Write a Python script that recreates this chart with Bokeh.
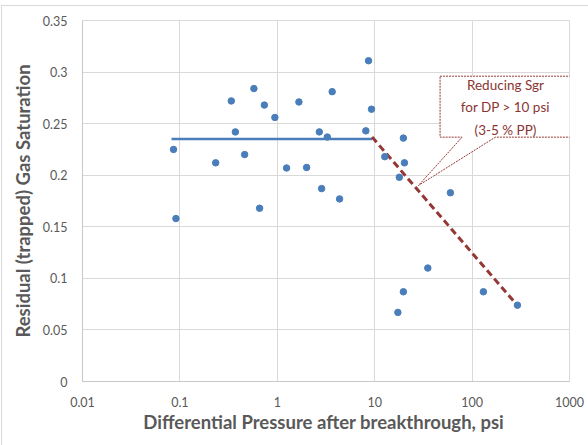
from bokeh.plotting import figure
from bokeh.models import (Range1d, FixedTicker, CustomJSTickFormatter,
                          PolyAnnotation, Label, InlineStyleSheet)
from bokeh.embed import file_html
from bokeh.resources import INLINE

# Measured residual gas saturation vs. differential pressure after breakthrough
dp_psi = [0.086, 0.091, 0.233, 0.337, 0.371, 0.462, 0.575, 0.658, 0.736, 0.944,
          1.245, 1.667, 2.0, 2.70, 2.85, 3.26, 3.66, 4.36, 8.11, 8.64,
          9.27, 12.7, 17.3, 17.9, 19.7, 19.7, 20.2, 35.1, 59.9, 130.6, 292.0]
sgr = [0.225, 0.158, 0.212, 0.272, 0.242, 0.220, 0.284, 0.168, 0.268, 0.256,
       0.207, 0.271, 0.2075, 0.242, 0.187, 0.237, 0.281, 0.177, 0.243, 0.311,
       0.264, 0.218, 0.067, 0.198, 0.236, 0.087, 0.212, 0.110, 0.183, 0.087, 0.074]

# Plateau (constant Sgr) and reducing trend above ~10 psi
plateau_dp = [0.082, 9.4]
plateau_sgr = [0.235, 0.235]
trend_dp = [9.4, 290.0]
trend_sgr = [0.237, 0.074]

x_ticks = [0.01, 0.1, 1, 10, 100, 1000]
x_tick_labels = ["0.01", "0.1", "1", "10", "100", "1000"]
y_ticks = [0, 0.05, 0.1, 0.15, 0.2, 0.25, 0.3, 0.35]
y_tick_labels = ["0", "0.05", "0.1", "0.15", "0.2", "0.25", "0.3", "0.35"]

callout_text = "Reducing Sgr\nfor DP > 10 psi\n(3-5 % PP)"

FONT = "Lato"
GREY = "#595959"
GRID = "#d9d9d9"
BLUE = "#4a7ebb"
DARK_RED = "#953735"

p = figure(width=588, height=445, x_axis_type="log",
           x_range=Range1d(0.01, 1000), y_range=Range1d(0, 0.35),
           output_backend="svg", toolbar_location=None,
           min_border_left=82, min_border_right=19,
           min_border_top=20, min_border_bottom=64)

p.background_fill_color = "white"
p.border_fill_color = "white"
p.outline_line_color = GRID

# outer chart border: only its top and left edges fall inside the page
p.stylesheets.append(InlineStyleSheet(css="""
:host { position: relative; }
:host::after {
  content: ""; position: absolute; left: 1px; top: 5px;
  width: 800px; height: 800px; box-sizing: border-box;
  border-top: 1.5px solid #d9d9d9; border-left: 1.5px solid #d9d9d9;
  pointer-events: none; z-index: 100;
}
"""))

lookup = """
const i = tick_vals.findIndex(t => Math.abs(t - tick) <= 1e-9 * Math.max(1, Math.abs(t)));
return i >= 0 ? tick_text[i] : "";
"""
p.xaxis.ticker = FixedTicker(ticks=x_ticks, minor_ticks=[])
p.xaxis.formatter = CustomJSTickFormatter(args=dict(tick_vals=x_ticks, tick_text=x_tick_labels), code=lookup)
p.yaxis.ticker = FixedTicker(ticks=y_ticks, minor_ticks=[])
p.yaxis.formatter = CustomJSTickFormatter(args=dict(tick_vals=y_ticks, tick_text=y_tick_labels), code=lookup)

for ax in (p.xaxis, p.yaxis):
    ax.axis_line_color = "#c8c8c8"
    ax.major_tick_line_color = None
    ax.minor_tick_line_color = None
    ax.major_label_text_font = FONT
    ax.major_label_text_font_size = "12.5px"
    ax.major_label_text_color = GREY
    ax.axis_label_text_font = FONT
    ax.axis_label_text_font_size = "18.5px"
    ax.axis_label_text_font_style = "bold"
    ax.axis_label_text_color = GREY

p.xaxis.axis_label = "Differential Pressure after breakthrough,  psi"
p.yaxis.axis_label = "Residual (trapped) Gas Saturation"
p.xaxis.major_label_standoff = 9
p.xaxis.axis_label_standoff = 1
p.yaxis.major_label_standoff = 9
p.yaxis.axis_label_standoff = 6

p.xgrid.ticker = FixedTicker(ticks=x_ticks, minor_ticks=[])
p.ygrid.ticker = FixedTicker(ticks=y_ticks, minor_ticks=[])
p.grid.grid_line_color = GRID
p.grid.grid_line_width = 1

p.line(plateau_dp, plateau_sgr, line_color=BLUE, line_width=2.5)
p.line(trend_dp, trend_sgr, line_color=DARK_RED, line_width=3, line_dash="7 4")
p.scatter(dp_psi, sgr, size=6.5, color=BLUE, line_color=BLUE)

# callout box with pointer to the reducing trend
p.add_layout(PolyAnnotation(
    xs=[46.9, 1112, 1112, 173.5, 28.1, 78.9, 46.9],
    ys=[0.296, 0.296, 0.2369, 0.2369, 0.190, 0.2369, 0.2369],
    fill_color="white", fill_alpha=1.0,
    line_color=DARK_RED, line_alpha=1.0, line_width=1, line_dash="2 1"))
p.add_layout(Label(x=220, y=0.266, text=callout_text, text_align="center",
                   text_baseline="middle", text_font=FONT, text_font_size="13.5px",
                   text_color="#8a3533", text_line_height=1.4))

open("out.html", "w").write(file_html(p, INLINE))
